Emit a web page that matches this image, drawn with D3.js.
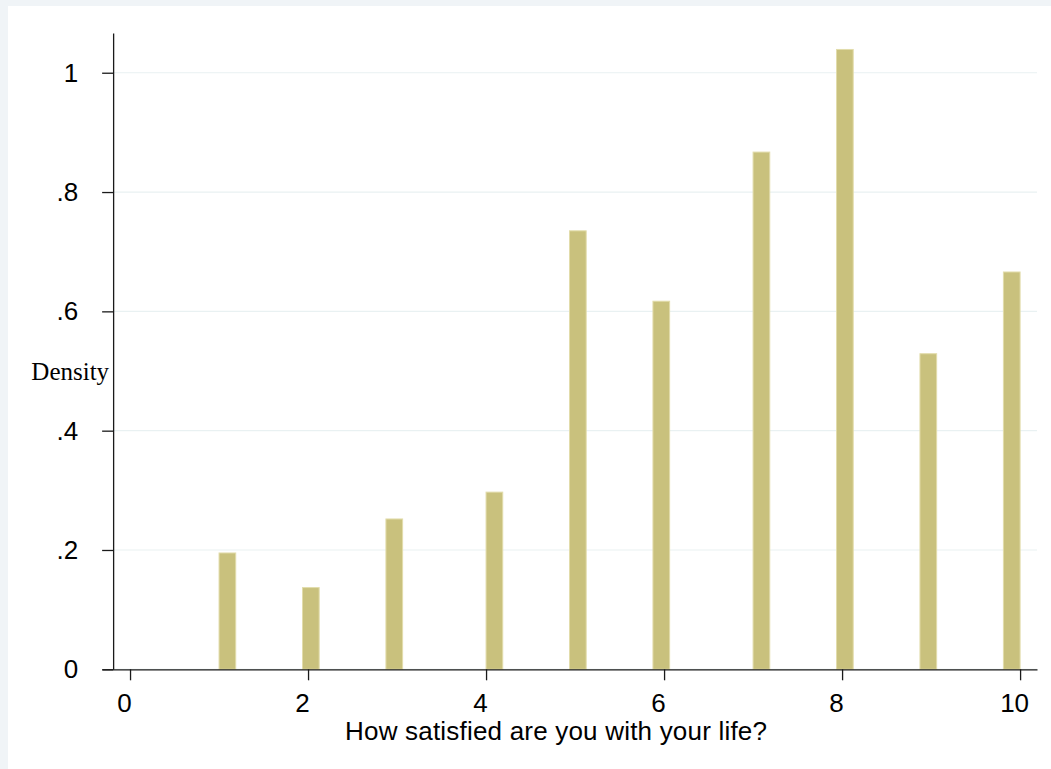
<!DOCTYPE html>
<html>
<head>
<meta charset="utf-8">
<script src="https://cdn.jsdelivr.net/npm/d3@7"></script>
<style>
	body { margin: 0; background: #fff; }
	svg { display: block; }
</style>
</head>
<body>
<div id="hist"></div>
<script>
// histogram bins: left edge of each non-empty bin (bins of width 0.1875 from 1 to 10)
var binStarts = [1, 1.9375, 2.875, 4, 4.9375, 5.875, 7, 7.9375, 8.875, 9.8125];
var densities = [0.195, 0.137, 0.252, 0.297, 0.735, 0.617, 0.867, 1.039, 0.529, 0.666];
var binWidth = 0.1875;

var xTicks = [0, 2, 4, 6, 8, 10];
var yTicks = [0, 0.2, 0.4, 0.6, 0.8, 1];
var yTickLabels = ["0", ".2", ".4", ".6", ".8", "1"];

var xTitle = "How satisfied are you with your life?";
var yTitle = "Density";

var W = 1051, H = 769;
var BAR_FILL = "#c9c17d",
	BAR_EDGE = "#e2dcab",
	GRID = "#e9f1f2",
	SANS = "Liberation Sans, Arial, sans-serif";

var svg = d3.select("#hist")
	.append("svg")
	.attr("width", W)
	.attr("height", H);

// outer frame (light band on top / left)
svg.append("rect")
	.attr("width", W).attr("height", H)
	.attr("fill", "#f0f4f7");
svg.append("rect")
	.attr("x", 8).attr("y", 6)
	.attr("width", W).attr("height", H)
	.attr("fill", "#fff");

// scales
var x = d3.scaleLinear()
	.domain([-0.315, 10.19])
	.range([102, 1037]);
var y = d3.scaleLinear()
	.domain([0, 1.0666])
	.range([669.3, 33]);

var yAxisX = x(-0.19);

// gridlines
svg.append("g")
	.selectAll("line")
	.data(yTicks)
	.enter()
	.append("line")
	.attr("x1", yAxisX)
	.attr("x2", x(10.19))
	.attr("y1", d => y(d))
	.attr("y2", d => y(d))
	.attr("stroke", GRID)
	.attr("stroke-width", 1.2);

// bars
svg.append("g")
	.selectAll("rect")
	.data(binStarts)
	.enter()
	.append("rect")
	.attr("x", d => x(d))
	.attr("y", (d, i) => y(densities[i]))
	.attr("width", d => x(d + binWidth) - x(d))
	.attr("height", (d, i) => y(0) - y(densities[i]))
	.attr("fill", BAR_FILL)
	.attr("stroke", BAR_EDGE)
	.attr("stroke-width", 1);

// y axis
var yAxis = svg.append("g")
	.attr("transform", "translate(" + yAxisX + ",0)")
	.call(d3.axisLeft(y)
		.tickValues(yTicks)
		.tickFormat((d, i) => yTickLabels[i])
		.tickSize(11)
		.tickSizeOuter(0)
		.tickPadding(24));
yAxis.selectAll("text")
	.attr("font-family", SANS)
	.style("font-size", "26px")
	.attr("fill", "#000");

// x axis
var xAxis = svg.append("g")
	.attr("transform", "translate(0," + y(0) + ")")
	.call(d3.axisBottom(x)
		.tickValues(xTicks)
		.tickSize(11)
		.tickSizeOuter(0)
		.tickPadding(13));
xAxis.selectAll("text")
	.attr("font-family", SANS)
	.style("font-size", "26px")
	.attr("dx", "-6")
	.attr("fill", "#000");

svg.selectAll(".domain, .tick line")
	.attr("stroke", "#1a1a1a")
	.attr("stroke-width", 1.3);

// axis titles
svg.append("text")
	.attr("x", 556)
	.attr("y", 740)
	.attr("text-anchor", "middle")
	.attr("font-family", SANS)
	.style("font-size", "26px")
	.attr("textLength", 422)
	.attr("lengthAdjust", "spacing")
	.text(xTitle);

svg.append("text")
	.attr("x", yAxisX - 4)
	.attr("y", y(0.5))
	.attr("dy", "0.35em")
	.attr("text-anchor", "end")
	.attr("font-family", "Liberation Serif, Times New Roman, serif")
	.style("font-size", "25px")
	.text(yTitle);
</script>
</body>
</html>
